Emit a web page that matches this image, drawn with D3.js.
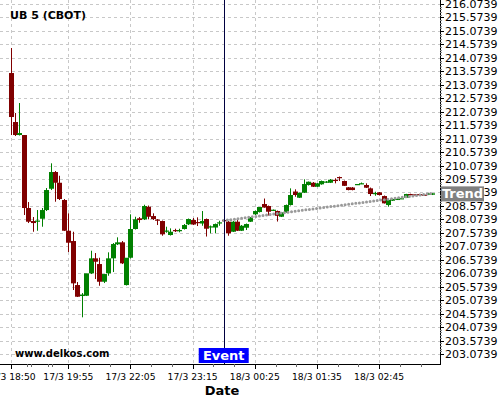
<!DOCTYPE html>
<html><head><meta charset="utf-8">
<script src="https://cdn.jsdelivr.net/npm/d3@7/dist/d3.min.js"></script>
<style>body{margin:0;background:#fff;}svg{display:block;font-family:"DejaVu Sans",sans-serif;}</style>
</head><body><svg id="c" width="500" height="400"></svg>
<script>
const title = "UB 5 (CBOT)";
const opens  = [213.510,211.690,211.207,211.207,208.496,208.013,207.994,208.098,208.421,209.212,209.833,209.435,208.793,207.652,207.270,205.635,205.227,205.238,206.070,206.627,206.415,205.758,206.070,206.627,207.147,207.222,205.635,206.649,207.716,208.113,208.076,208.544,208.198,208.068,208.013,207.623,207.493,207.678,207.649,207.716,207.890,208.050,207.976,207.920,208.087,207.771,207.771,207.938,208.050,207.987,207.615,207.987,207.652,207.764,207.987,208.262,208.347,208.644,208.570,208.403,208.384,208.172,208.336,208.607,209.109,208.878,209.064,209.350,209.435,209.287,209.376,209.462,209.435,209.543,209.647,209.499,209.265,209.257,209.369,209.406,209.350,209.227,209.034,209.079,208.941,208.607,208.767,208.822,208.845,208.878,209.016,209.005,209.016,208.994,208.990,208.990];
const highs  = [214.439,212.025,212.396,211.207,208.718,208.161,208.421,208.496,209.238,210.156,209.870,209.695,208.830,208.299,207.615,205.747,205.338,205.264,206.910,206.824,206.649,206.044,206.850,207.195,207.407,207.270,205.635,208.262,208.172,208.161,208.618,208.588,208.299,208.087,208.031,207.801,207.741,207.727,207.727,207.901,208.106,208.124,208.150,208.384,208.106,207.846,207.920,208.024,208.068,208.013,208.013,208.113,207.864,207.920,208.161,208.403,208.533,208.849,208.588,208.440,208.403,208.347,208.626,209.227,209.190,209.071,209.562,209.480,209.462,209.424,209.517,209.499,209.573,209.599,209.666,209.517,209.276,209.276,209.387,209.443,209.413,209.257,209.101,209.090,208.960,208.811,208.849,208.849,208.867,209.023,209.027,209.016,209.023,209.005,209.053,209.053];
const lows   = [211.207,211.170,211.189,208.236,207.938,207.615,207.652,207.801,208.384,209.164,208.730,208.793,207.641,206.861,205.450,205.190,204.436,205.227,206.044,205.858,205.609,205.709,205.981,206.118,207.121,206.415,205.617,206.620,207.697,207.949,208.050,208.076,208.050,207.864,207.467,207.578,207.474,207.604,207.593,207.697,207.864,207.864,207.827,207.838,207.437,207.556,207.556,207.838,208.013,207.467,207.604,207.641,207.641,207.678,207.976,208.236,208.328,208.507,208.217,208.384,207.994,208.161,208.321,208.588,208.915,208.867,209.053,209.331,209.276,209.276,209.361,209.424,209.424,209.413,209.499,209.313,209.153,209.153,209.350,209.387,209.238,208.941,208.952,208.960,208.663,208.544,208.756,208.811,208.830,208.867,208.968,208.990,208.960,208.986,208.978,208.978];
const closes = [211.876,211.207,211.281,208.496,207.987,207.938,208.031,208.421,209.164,209.833,209.435,208.830,207.652,207.207,205.698,205.201,205.282,206.070,206.627,206.501,205.758,206.044,206.627,207.158,207.222,206.441,206.649,207.716,208.076,208.050,208.570,208.172,208.087,208.031,207.519,207.660,207.615,207.641,207.678,207.864,208.087,207.883,207.946,208.013,207.727,207.816,207.901,207.964,208.020,207.556,207.987,207.652,207.838,207.901,208.150,208.384,208.533,208.514,208.358,208.433,208.206,208.336,208.607,208.979,208.979,209.064,209.387,209.472,209.287,209.413,209.499,209.480,209.547,209.525,209.629,209.320,209.164,209.164,209.387,209.417,209.250,209.016,209.053,208.979,208.670,208.793,208.830,208.837,208.860,209.016,208.979,208.997,208.968,208.986,209.042,209.042];
const xTickIdx = [0,13,27,41,55,69,83];
const xTickLabels = ["17/3 18:50","17/3 19:55","17/3 22:05","17/3 23:15","18/3 00:25","18/3 01:35","18/3 02:45"];
const yTicks = d3.range(0,27).map(k => 203.0739 + 0.5*k);
const eventIdx = 48;
const eventLabel = "Event";
const trendIdx = [48, 95];
const trendVals = [208.030, 209.040];
const trendLabel = "Trend";
const watermark = "www.delkos.com";
const xTitle = "Date";

const svg = d3.select("#c");
const R = 440, B = 364;
const x = d3.scaleLinear().domain([0,95]).range([10.6,432.4]);
const y = d3.scaleLinear().domain([203.0739,216.0739]).range([354,4]);

// grid
const g = svg.append("g");
g.selectAll(".hg").data(yTicks).join("line")
  .attr("x1",0).attr("x2",R).attr("y1",d=>Math.round(y(d))+0.5).attr("y2",d=>Math.round(y(d))+0.5)
  .attr("stroke","#c8c8c8").attr("stroke-dasharray","3,3");
g.selectAll(".vg").data(xTickIdx).join("line")
  .attr("y1",0).attr("y2",B).attr("x1",d=>Math.round(x(d))+0.5).attr("x2",d=>Math.round(x(d))+0.5)
  .attr("stroke","#c8c8c8").attr("stroke-dasharray","3,3");

// candles
const data = opens.map((o,i)=>({i,o,h:highs[i],l:lows[i],c:closes[i]}));
const cg = svg.append("g");
const col = d => d.c >= d.o ? "#008000" : "#800000";
cg.selectAll(".w").data(data).join("line")
  .attr("x1",d=>Math.round(x(d.i))+0.5).attr("x2",d=>Math.round(x(d.i))+0.5)
  .attr("y1",d=>y(d.h)).attr("y2",d=>y(d.l)).attr("stroke",col).attr("stroke-width",1);
cg.selectAll(".b").data(data).join("rect")
  .attr("x",d=>Math.round(x(d.i))-2).attr("width",5)
  .attr("y",d=>Math.min(y(d.o),y(d.c))).attr("height",d=>Math.max(1.2,Math.abs(y(d.o)-y(d.c))))
  .attr("fill",col);

// trend line
svg.append("line").attr("x1",x(trendIdx[0])).attr("x2",x(trendIdx[1]))
  .attr("y1",y(trendVals[0])).attr("y2",y(trendVals[1]))
  .attr("stroke","#9a9a9a").attr("stroke-width",3).attr("stroke-linecap","round").attr("stroke-dasharray","0,3.6");

// event line
svg.append("line").attr("x1",Math.round(x(eventIdx))+0.5).attr("x2",Math.round(x(eventIdx))+0.5)
  .attr("y1",0).attr("y2",B).attr("stroke","#000040").attr("stroke-width",1);

// right axis
const ya = svg.append("g").attr("transform",`translate(${R},0)`);
ya.append("line").attr("x1",0.5).attr("x2",0.5).attr("y1",0).attr("y2",B+1).attr("stroke","#000");
const minorY = d3.range(0,131).map(k=>203.0739+0.1*k);
ya.selectAll(".my").data(minorY).join("line").attr("x1",0).attr("x2",2)
  .attr("y1",d=>Math.round(y(d))+0.5).attr("y2",d=>Math.round(y(d))+0.5).attr("stroke","#888");
ya.selectAll(".ty").data(yTicks).join("line").attr("x1",0).attr("x2",4)
  .attr("y1",d=>Math.round(y(d))+0.5).attr("y2",d=>Math.round(y(d))+0.5).attr("stroke","#000");
ya.selectAll(".ly").data(yTicks).join("text").attr("x",5).attr("y",d=>y(d)+4)
  .attr("font-size",11).attr("fill","#000").text(d=>d.toFixed(4));

// bottom axis
const xa = svg.append("g");
xa.append("line").attr("x1",0).attr("x2",R+1).attr("y1",B+0.5).attr("y2",B+0.5).attr("stroke","#000");
xa.selectAll(".tx").data(xTickIdx).join("line").attr("x1",d=>Math.round(x(d))+0.5).attr("x2",d=>Math.round(x(d))+0.5)
  .attr("y1",B).attr("y2",B+5).attr("stroke","#000");
const minorX = [];
xTickIdx.forEach(t=>{[14/3,28/3].forEach(o=>minorX.push(t+o));});
minorX.push(13-14/3, 13-28/3);
xa.selectAll(".mx").data(minorX.filter(v=>x(v)<R)).join("line").attr("x1",d=>Math.round(x(d))+0.5).attr("x2",d=>Math.round(x(d))+0.5)
  .attr("y1",B).attr("y2",B+3).attr("stroke","#666");
xa.selectAll(".lx").data(xTickIdx).join("text").attr("x",d=>x(d)).attr("y",B+16)
  .attr("text-anchor","middle").attr("font-size",9.2).attr("fill","#000").text((d,i)=>xTickLabels[i]);
svg.append("text").attr("x",222).attr("y",B+31).attr("text-anchor","middle")
  .attr("font-size",13).attr("font-weight","bold").text(xTitle);

// trend label
const ty = y(trendVals[1]);
svg.append("rect").attr("x",441).attr("y",ty-7).attr("width",43).attr("height",15).attr("fill","#808080");
svg.append("text").attr("x",462.5).attr("y",ty+5).attr("text-anchor","middle").attr("font-size",13)
  .attr("font-weight","bold").attr("fill","#fff").text(trendLabel);

// event label
const ex = x(eventIdx);
svg.append("rect").attr("x",ex-25).attr("y",348).attr("width",50).attr("height",15).attr("fill","#0000ff");
svg.append("text").attr("x",ex).attr("y",360).attr("text-anchor","middle").attr("font-size",13)
  .attr("font-weight","bold").attr("fill","#fff").text(eventLabel);

// title & watermark
svg.append("text").attr("x",10).attr("y",19).attr("font-size",11).attr("font-weight","bold").text(title);
svg.append("text").attr("x",15).attr("y",357).attr("font-size",10).attr("font-weight","bold").text(watermark);
</script></body></html>
